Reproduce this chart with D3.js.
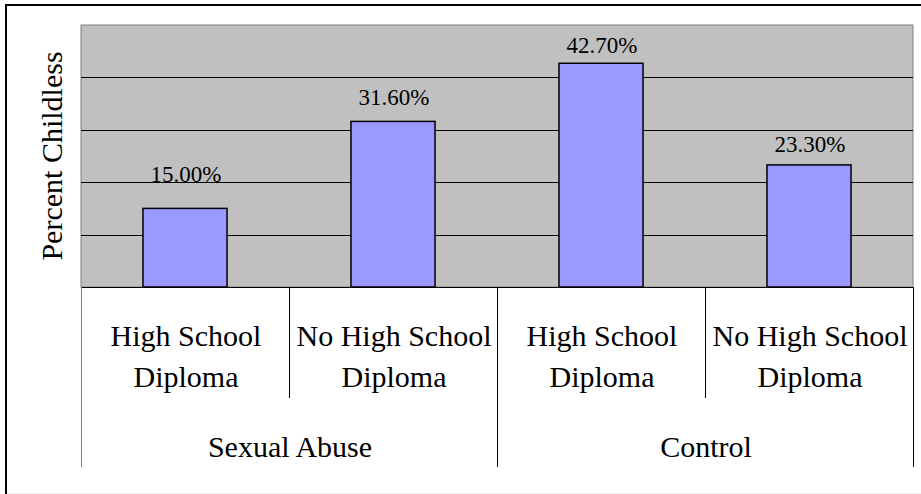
<!DOCTYPE html>
<html>
<head>
<meta charset="utf-8">
<script src="https://cdn.jsdelivr.net/npm/d3@7/dist/d3.min.js"></script>
</head>
<body style="margin:0">
<svg id="fig" width="921" height="494" style="display:block"></svg>
<script>
// Chart data
const groups = ["Sexual Abuse", "Control"];
const subCategories = [
  ["High School", "Diploma"],
  ["No High School", "Diploma"],
  ["High School", "Diploma"],
  ["No High School", "Diploma"]
];
const percentChildless = [15.0, 31.6, 42.7, 23.3];
const yTicks = [0, 10, 20, 30, 40, 50];
const yTitle = "Percent Childless";

// Layout
const width = 921, height = 494;
const serifFace = "Liberation Serif";
const plot = { left: 81, top: 25, right: 913, bottom: 287 };
const subTickEnd = 398, groupTickEnd = 467;
const barFrac = 0.404;
// Vertical gap between each value label baseline and its bar top
const labelGap = [26, 16, 10, 13];

const svg = d3.select("#fig");

// Outer frame (its right and bottom edges fall past the page edge)
svg.append("rect")
  .attr("x", 6).attr("y", 5)
  .attr("width", width + 10).attr("height", height + 10)
  .attr("fill", "#fff")
  .attr("stroke", "#000").attr("stroke-width", 2);
// Faint bottom edge
svg.append("line")
  .attr("x1", 7).attr("x2", width).attr("y1", height - 0.5).attr("y2", height - 0.5)
  .attr("stroke", "#efefef").attr("stroke-width", 1);

const idx = d3.range(percentChildless.length);
const x = d3.scaleBand().domain(idx).range([plot.left, plot.right]).padding(0);
const y = d3.scaleLinear().domain([0, 50]).range([plot.bottom, plot.top]);

// Plot area background
svg.append("rect")
  .attr("x", plot.left).attr("y", plot.top)
  .attr("width", plot.right - plot.left).attr("height", plot.bottom - plot.top)
  .attr("fill", "#c0c0c0")
  .attr("stroke", "#808080").attr("stroke-width", 1);

// Horizontal gridlines
svg.selectAll("line.grid")
  .data(yTicks.filter(t => t > 0 && t < 50))
  .join("line")
  .attr("class", "grid")
  .attr("x1", plot.left).attr("x2", plot.right)
  .attr("y1", d => Math.round(y(d)) + 0.5).attr("y2", d => Math.round(y(d)) + 0.5)
  .attr("stroke", "#000").attr("stroke-width", 1);

// Bars
const bw = x.bandwidth() * barFrac;
svg.selectAll("rect.bar")
  .data(idx)
  .join("rect")
  .attr("class", "bar")
  .attr("x", i => x(i) + (x.bandwidth() - bw) / 2)
  .attr("y", i => y(percentChildless[i]))
  .attr("width", bw)
  .attr("height", i => y(0) - y(percentChildless[i]))
  .attr("fill", "#9999ff")
  .attr("stroke", "#000").attr("stroke-width", 1.5);

// Value labels
const fmt = d3.format(".2f");
svg.selectAll("text.val")
  .data(idx)
  .join("text")
  .attr("class", "val")
  .attr("x", i => x(i) + x.bandwidth() / 2 + 1)
  .attr("y", i => y(percentChildless[i]) - labelGap[i])
  .attr("text-anchor", "middle")
  .attr("font-size", 23)
  .style("font-family", serifFace)
  .text(i => fmt(percentChildless[i]) + "%");

// Category axis line
svg.append("line")
  .attr("x1", plot.left).attr("x2", plot.right)
  .attr("y1", plot.bottom + 0.5).attr("y2", plot.bottom + 0.5)
  .attr("stroke", "#000").attr("stroke-width", 1);

// Category divider ticks: sub-category boundaries short, group boundaries long
const boundaries = d3.range(percentChildless.length + 1);
svg.selectAll("line.div")
  .data(boundaries)
  .join("line")
  .attr("class", "div")
  .attr("x1", b => (b < idx.length ? x(b) : plot.right) + 0.5)
  .attr("x2", b => (b < idx.length ? x(b) : plot.right) + 0.5)
  .attr("y1", plot.bottom)
  .attr("y2", b => (b % 2 === 0 ? groupTickEnd : subTickEnd))
  .attr("stroke", b => (b === 0 ? "#808080" : "#000"))
  .attr("stroke-width", 1);

// Sub-category labels, one text element per line
const subLines = idx.flatMap(i => subCategories[i].map((t, k) => ({ t, k, i })));
svg.selectAll("text.sub")
  .data(subLines)
  .join("text")
  .attr("class", "sub")
  .attr("x", d => x(d.i) + x.bandwidth() / 2 + 1)
  .attr("y", d => 346 + d.k * 41)
  .attr("text-anchor", "middle")
  .attr("font-size", 30)
  .style("font-family", serifFace)
  .text(d => d.t);

// Group labels
svg.selectAll("text.grp")
  .data(groups)
  .join("text")
  .attr("class", "grp")
  .attr("x", (g, j) => (x(j * 2) + (j * 2 + 2 < idx.length ? x(j * 2 + 2) : plot.right)) / 2 + 1)
  .attr("y", 457)
  .attr("text-anchor", "middle")
  .attr("font-size", 30)
  .style("font-family", serifFace)
  .text(g => g);

// Y axis title
svg.append("text")
  .attr("transform", `translate(62, ${(plot.top + plot.bottom) / 2}) rotate(-90)`)
  .attr("text-anchor", "middle")
  .attr("font-size", 30)
  .style("font-family", serifFace)
  .text(yTitle);
</script>
</body>
</html>
